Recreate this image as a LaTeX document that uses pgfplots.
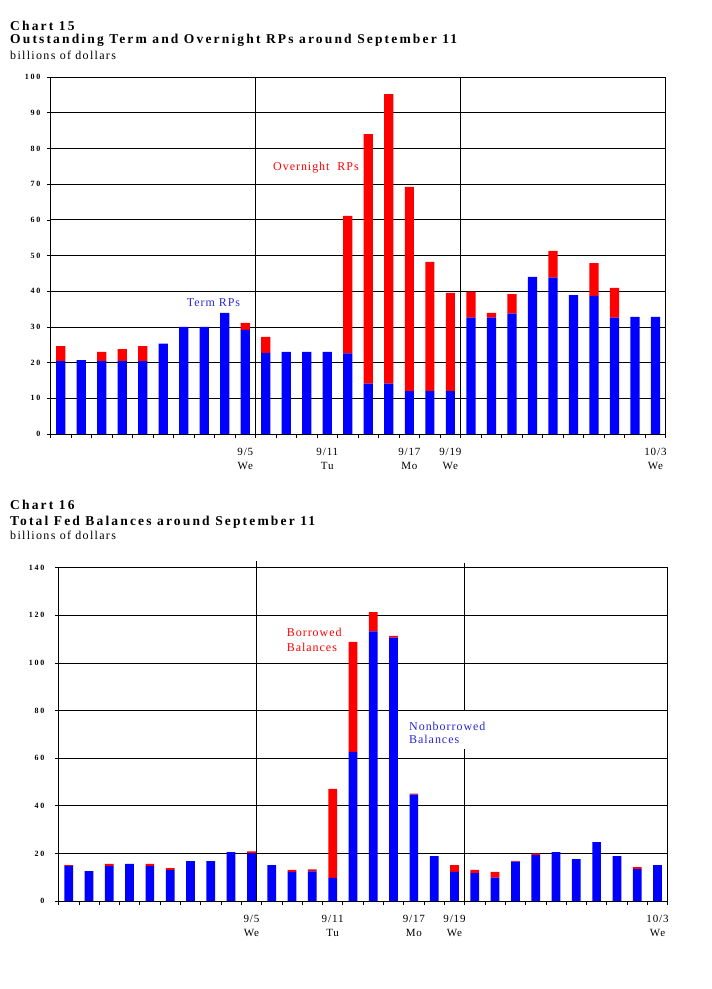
\documentclass[border=0pt]{standalone}
\usepackage{pgfplots}
\pgfplotsset{compat=1.18}
\usepackage{pgfplotstable}
\usepackage{fontspec}
\setmainfont{Liberation Serif}
\newfontfamily\titlefont[LetterSpace=16]{Liberation Serif}
\newfontfamily\subfont[LetterSpace=11]{Liberation Serif}
\newfontfamily\labfont[LetterSpace=8]{Liberation Serif}
\newfontfamily\tickfont[LetterSpace=22]{Liberation Serif}
\definecolor{barblue}{RGB}{0,0,255}
\definecolor{barred}{RGB}{255,0,0}
\definecolor{txtblue}{RGB}{40,40,215}

% Chart 15: term RPs (blue) and overnight RPs (red, stacked on top)
\pgfplotstableread{
x term over
1 20.4 4.2
2 20.7 0
3 20.4 2.6
4 20.4 3.4
5 20.4 4.2
6 25.3 0
7 30.0 0
8 30.0 0
9 33.9 0
10 29.2 1.9
11 22.7 4.5
12 23.0 0
13 23.0 0
14 23.0 0
15 22.6 38.5
16 14.1 69.9
17 14.1 81.1
18 12.0 57.2
19 12.0 36.2
20 12.0 27.5
21 32.6 7.3
22 32.6 1.3
23 33.7 5.5
24 44.0 0
25 43.8 7.5
26 38.9 0
27 38.7 9.2
28 32.6 8.3
29 32.8 0
30 32.8 0
}\toptable

% Chart 16: nonborrowed (blue) and borrowed (red) balances
\pgfplotstableread{
x nonb borr
1 14.7 0.4
2 12.6 0
3 14.7 0.9
4 15.6 0
5 14.7 0.9
6 13.0 0.8
7 16.8 0
8 16.8 0
9 20.5 0
10 20.0 0.9
11 15.1 0
12 12.2 0.9
13 12.5 0.8
14 9.7 37.4
15 62.6 46.2
16 113.3 8.0
17 110.6 0.8
18 44.7 0.4
19 18.9 0
20 12.2 2.9
21 11.7 1.4
22 9.8 2.4
23 16.5 0.4
24 19.3 0.7
25 20.5 0
26 17.6 0
27 24.7 0
28 18.9 0
29 13.4 0.8
30 15.1 0
}\bottable

\pgfplotsset{fedstyle/.style={
  scale only axis, anchor=south west,
  xmin=0.5, xmax=30.5, ymin=0,
  ybar stacked, clip=false,
  axis line style={black, line width=0.8pt},
  ymajorgrids, major grid style={black, line width=0.8pt},
  xtick={0.5,1.5,...,30.5}, xticklabels={},
  xtick pos=bottom, ytick pos=left,
  tick align=outside, major tick length=3.5pt,
  tick style={black, line width=0.6pt},
  extra x ticks={10,14,18,20,30},
  extra x tick labels={{9/5\\We},{9/11\\Tu},{9/17\\Mo},{9/19\\We},{10/3\\We}},
  extra x tick style={major tick length=0pt,
    xticklabel style={align=center, font=\labfont\fontsize{11}{14}\selectfont, yshift=-11pt}},
  /pgf/number format/assume math mode=true,
}}

\begin{document}
\begin{tikzpicture}
\path[use as bounding box] (0,0) rectangle (712pt,-989pt);

% ---------- Chart 15 ----------
\node[anchor=base west, inner sep=0, font=\titlefont\bfseries\fontsize{13.5}{14}\selectfont] at (10pt,-30pt) {Chart 15};
\node[anchor=base west, inner sep=0, font=\titlefont\bfseries\fontsize{13.5}{14}\selectfont] at (10pt,-43.5pt) {Outstanding Term and Overnight RPs around September 11};
\node[anchor=base west, inner sep=0, font=\subfont\fontsize{12}{13}\selectfont] at (10pt,-59.3pt) {billions of dollars};

\begin{axis}[fedstyle,
  at={(50.5pt,-434pt)}, width=615.2pt, height=357pt,
  ymax=100, ytick={0,10,...,100}, bar width=0.45,
  yticklabel style={font=\tickfont\bfseries\fontsize{8}{8}\selectfont, xshift=-3pt}]
\addplot[fill=barblue, draw=none] table[x=x, y=term] {\toptable};
\addplot[fill=barred, draw=none] table[x=x, y=over] {\toptable};
\draw[black, line width=0.8pt] (axis cs:10.5,0) -- (axis cs:10.5,100);
\draw[black, line width=0.8pt] (axis cs:20.5,0) -- (axis cs:20.5,100);
\end{axis}

\node[anchor=base west, inner sep=0, text=txtblue, font=\labfont\fontsize{12}{13}\selectfont] at (186.7pt,-306.7pt) {Term RPs};
\node[anchor=base west, inner sep=0, text=barred, font=\labfont\fontsize{12}{13}\selectfont] at (273pt,-170.7pt) {Overnight\ \ RPs};

% ---------- Chart 16 ----------
\node[anchor=base west, inner sep=0, font=\titlefont\bfseries\fontsize{13.5}{14}\selectfont] at (10pt,-509.5pt) {Chart 16};
\node[anchor=base west, inner sep=0, font=\titlefont\bfseries\fontsize{13.5}{14}\selectfont] at (10pt,-525.3pt) {Total Fed Balances around September 11};
\node[anchor=base west, inner sep=0, font=\subfont\fontsize{12}{13}\selectfont] at (10pt,-539.5pt) {billions of dollars};

\begin{axis}[fedstyle,
  at={(58.5pt,-901pt)}, width=609.2pt, height=333.3pt,
  ymax=140, ytick={0,20,...,140}, bar width=0.43,
  yticklabel style={font=\tickfont\bfseries\fontsize{8}{8}\selectfont, xshift=-7pt}]
\addplot[fill=barblue, draw=none] table[x=x, y=nonb] {\bottable};
\addplot[fill=barred, draw=none] table[x=x, y=borr] {\bottable};
\draw[black, line width=0.8pt] (axis cs:10.26,0) -- (axis cs:10.26,143);
\draw[black, line width=0.8pt] (axis cs:20.5,0) -- (axis cs:20.5,142);
\end{axis}

\fill[white] (405pt,-711pt) rectangle (490pt,-749pt);
\node[anchor=base west, inner sep=0, text=barred, font=\labfont\fontsize{12}{13}\selectfont] at (286.7pt,-636.7pt) {Borrowed};
\node[anchor=base west, inner sep=0, text=barred, font=\labfont\fontsize{12}{13}\selectfont] at (286.7pt,-651pt) {Balances};
\node[anchor=base west, inner sep=0, text=txtblue, font=\labfont\fontsize{12}{13}\selectfont] at (409pt,-730pt) {Nonborrowed};
\node[anchor=base west, inner sep=0, text=txtblue, font=\labfont\fontsize{12}{13}\selectfont] at (409pt,-743.5pt) {Balances};
\end{tikzpicture}
\end{document}
